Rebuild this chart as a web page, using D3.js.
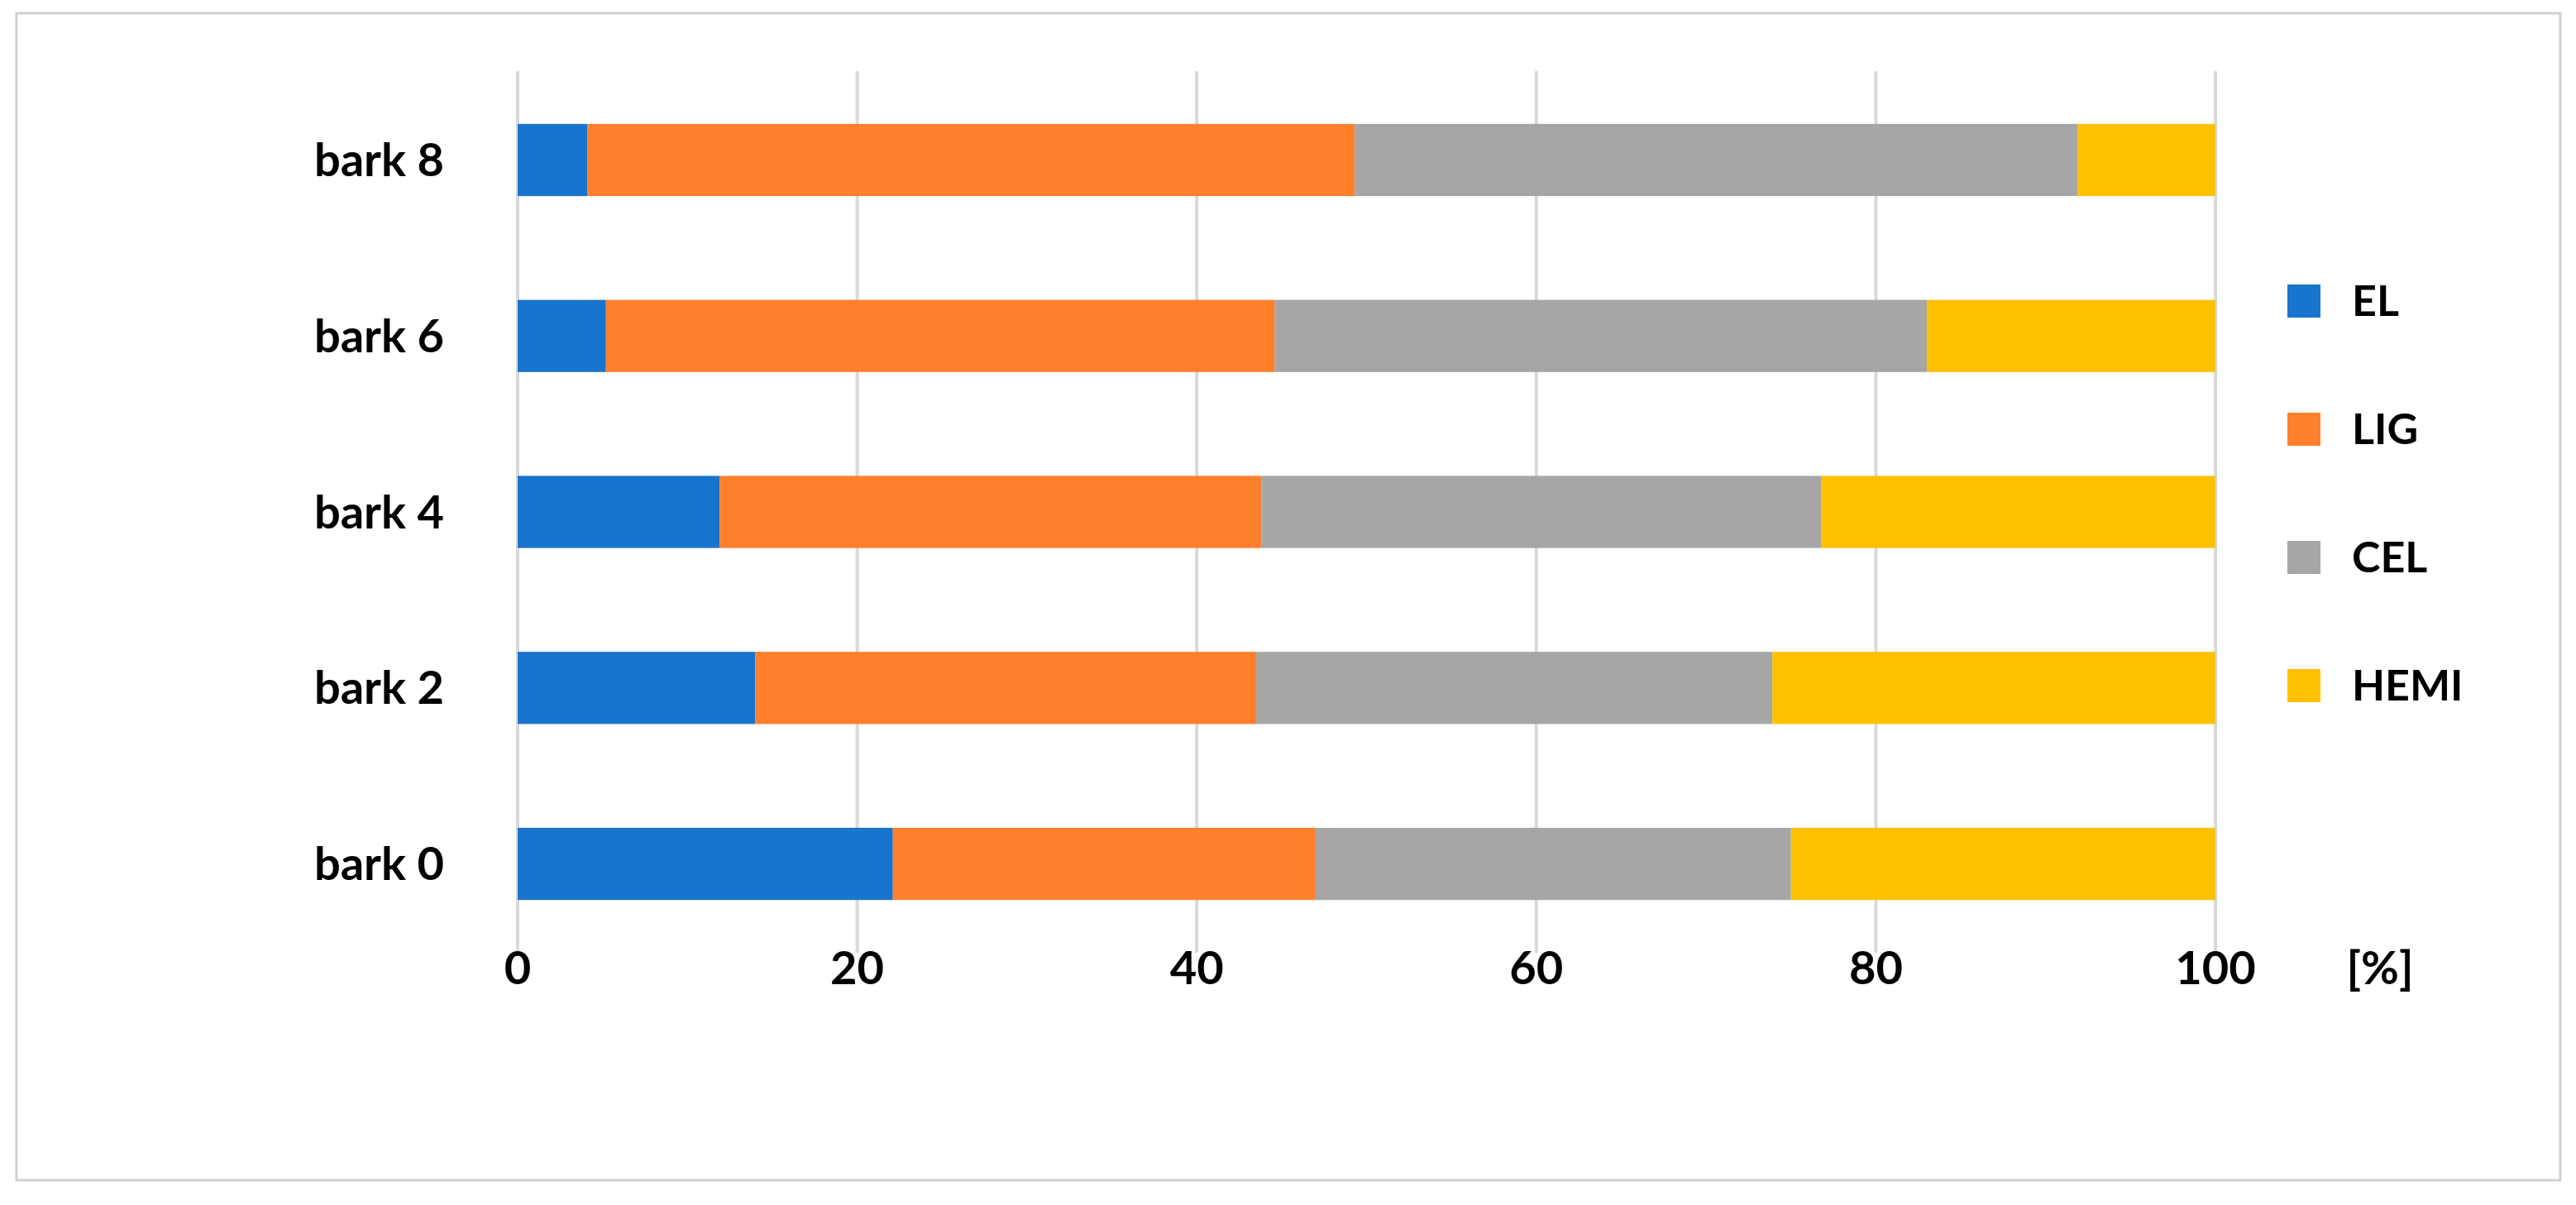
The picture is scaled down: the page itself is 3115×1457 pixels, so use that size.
<!DOCTYPE html>
<html><head><meta charset="utf-8">
<script src="https://cdn.jsdelivr.net/npm/d3@7"></script>
<style>body{margin:0;background:#fff}</style>
</head><body>
<svg id="chart" width="3115" height="1457"></svg>
<script>
var categories = ["bark 0", "bark 2", "bark 4", "bark 6", "bark 8"];
var seriesNames = ["EL", "LIG", "CEL", "HEMI"];
var EL   = [22.1, 14.0, 11.9, 5.2, 4.1];
var LIG  = [24.9, 29.5, 31.9, 39.4, 45.2];
var CEL  = [28.0, 30.4, 33.0, 38.4, 42.6];
var HEMI = [25.0, 26.1, 23.2, 17.0, 8.1];
var ticks = [0, 20, 40, 60, 80, 100];
var colors = ["#1874cd", "#fe7f2c", "#a6a6a6", "#ffc000"];

var rows = categories.map(function(c, i) {
  return {cat: c, EL: EL[i], LIG: LIG[i], CEL: CEL[i], HEMI: HEMI[i]};
});

var svg = d3.select("#chart");
var font = "Lato, 'Open Sans', sans-serif";

svg.append("rect").attr("x", 20).attr("y", 16).attr("width", 3076).attr("height", 1411)
  .attr("fill", "#fff").attr("stroke", "#d0d0d0").attr("stroke-width", 3);

var x = d3.scaleLinear().domain([0, 100]).range([626, 2679]);
var y = d3.scaleBand().domain(categories.slice().reverse()).range([86, 1152]).paddingInner(0.59).paddingOuter(0.3);

// gridlines
svg.selectAll("line.grid").data(ticks).enter().append("line")
  .attr("x1", function(d){ return x(d); }).attr("x2", function(d){ return x(d); })
  .attr("y1", 86).attr("y2", 1152)
  .attr("stroke", "#d9d9d9").attr("stroke-width", 4);

var stacked = d3.stack().keys(seriesNames)(rows);
svg.selectAll("g.series").data(stacked).enter().append("g")
  .attr("fill", function(d, i){ return colors[i]; })
  .selectAll("rect").data(function(d){ return d; }).enter().append("rect")
  .attr("x", function(d){ return x(d[0]); })
  .attr("width", function(d){ return x(d[1]) - x(d[0]); })
  .attr("y", function(d){ return y(d.data.cat); })
  .attr("height", y.bandwidth());

// category labels
svg.selectAll("text.cat").data(categories).enter().append("text")
  .attr("x", 537).attr("y", function(d){ return y(d) + y.bandwidth()/2; })
  .attr("dy", "0.35em").attr("text-anchor", "end")
  .style("font-family", font).style("font-weight", "bold").style("font-size", "56px")
  .text(function(d){ return d; });

// x tick labels
svg.selectAll("text.tick").data(ticks).enter().append("text")
  .attr("x", function(d){ return x(d); }).attr("y", 1190)
  .attr("text-anchor", "middle")
  .style("font-family", font).style("font-weight", "bold").style("font-size", "56px")
  .text(function(d){ return d; });

svg.append("text").attr("x", 2878).attr("y", 1190).attr("text-anchor", "middle")
  .style("font-family", font).style("font-weight", "bold").style("font-size", "56px")
  .text("[%]");

// legend
var ly = d3.scalePoint().domain(seriesNames).range([364, 829]);
var leg = svg.selectAll("g.leg").data(seriesNames).enter().append("g")
  .attr("transform", function(d){ return "translate(2766," + ly(d) + ")"; });
leg.append("rect").attr("x", 0).attr("y", -20).attr("width", 40).attr("height", 40)
  .attr("fill", function(d, i){ return colors[i]; });
leg.append("text").attr("x", 78).attr("dy", "0.35em")
  .style("font-family", font).style("font-weight", "bold").style("font-size", "52px")
  .text(function(d){ return d; });
</script>
</body></html>
